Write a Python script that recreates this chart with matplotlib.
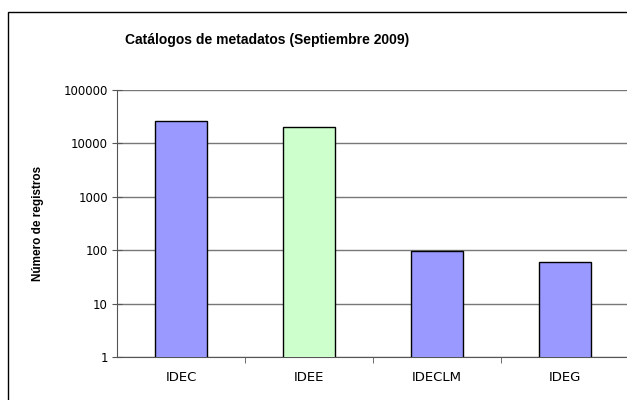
import matplotlib
matplotlib.use('Agg')
import matplotlib.pyplot as plt
from matplotlib.patches import Rectangle

# data
catalogos = ['IDEC', 'IDEE', 'IDECLM', 'IDEG']
registros = [26500, 20500, 95, 59]
colores = ['#9999FF', '#CCFFCC', '#9999FF', '#9999FF']
y_ticks = [1, 10, 100, 1000, 10000, 100000]

plt.rcParams['font.family'] = ['Liberation Sans', 'DejaVu Sans']

fig = plt.figure(figsize=(6.27, 4.0), dpi=100)
# outer chart frame (right and bottom run off the picture)
fig.patches.append(Rectangle((8 / 627, -0.1), 1.1, 1.1 - 12 / 400,
                             transform=fig.transFigure, fill=False,
                             edgecolor='black', lw=1.0))

ax = fig.add_axes([117 / 627, 43 / 400, 512 / 627, 267 / 400])
x = range(len(catalogos))
ax.bar(x, registros, width=0.41, color=colores, edgecolor='black', lw=1.0, zorder=3)

ax.set_yscale('log')
ax.set_ylim(1, 100000)
ax.set_xlim(-0.5, 3.5)
ax.set_yticks(y_ticks)
ax.set_yticklabels([str(v) for v in y_ticks], fontsize=8.5, family='DejaVu Sans')
ax.yaxis.set_minor_locator(plt.NullLocator())
ax.yaxis.grid(True, color='#777777', lw=1.0, zorder=0)

ax.set_xticks(list(x))
ax.set_xticklabels(catalogos, fontsize=9.5, family='DejaVu Sans')
ax.tick_params(axis='x', length=0, pad=10)
ax.set_xticks([0.5, 1.5, 2.5], minor=True)
ax.tick_params(axis='x', which='minor', length=4, color='#555555')
ax.tick_params(axis='y', length=7, color='#555555', direction='inout', pad=3)

for s in ['top', 'right']:
    ax.spines[s].set_visible(False)
ax.spines['left'].set_color('#555555')
ax.spines['bottom'].set_color('#555555')

ax.set_ylabel('Número de registros', fontsize=8.5, fontweight='bold', labelpad=14)
fig.text(267 / 627, 1 - 40 / 400, 'Catálogos de metadatos (Septiembre 2009)',
         ha='center', va='center', fontsize=10, fontweight='bold')

fig.savefig('out.png', dpi=100)
